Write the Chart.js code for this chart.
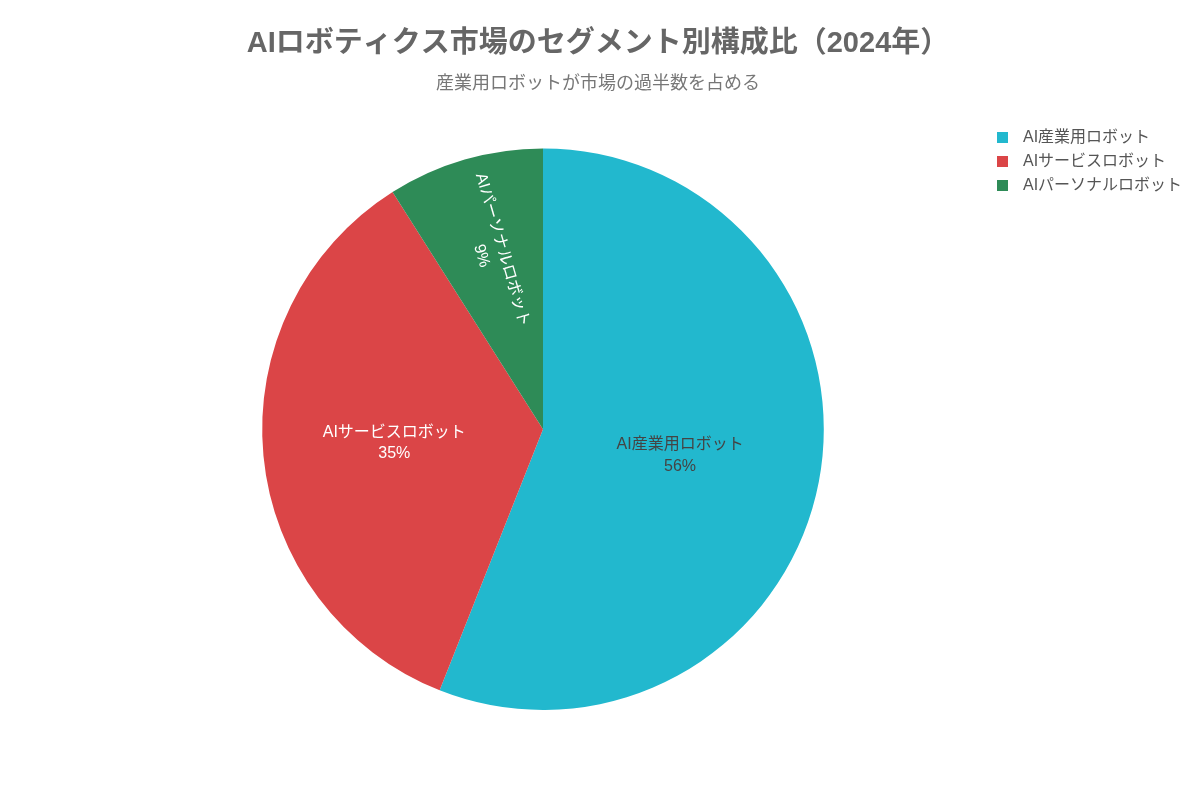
<!DOCTYPE html>
<html lang="ja">
<head>
<meta charset="utf-8">
<title>AIロボティクス市場のセグメント別構成比（2024年）</title>
<script src="https://cdn.jsdelivr.net/npm/chart.js@4.4.1/dist/chart.umd.min.js"></script>
<style>
  html, body { margin: 0; padding: 0; background: #fff; }
  #wrap { width: 1200px; height: 800px; }
</style>
</head>
<body>
<div id="wrap"><canvas id="segmentChart" width="1200" height="800"></canvas></div>
<script>
// Segment shares (%), 2024
const segments = ['AI産業用ロボット', 'AIサービスロボット', 'AIパーソナルロボット'];
const shares = [56, 35, 9];
const segmentColors = ['#22B8CE', '#DB4547', '#2E8B57'];
const labelTextColors = ['#444', '#fff', '#fff'];

const FONT = "'Liberation Sans', 'Noto Sans CJK JP', sans-serif";
const LEGEND_RESERVE = 110; // space kept free on the right of the pie

// Legend drawn at the top right, beside a reserved layout box
const sideLegend = {
    id: 'sideLegend',
    beforeInit(chart) {
        Chart.layouts.addBox(chart, {
            position: 'right',
            weight: 10,
            fullSize: false,
            options: {},
            left: 0, top: 0, right: 0, bottom: 0, width: 0, height: 0,
            isHorizontal() { return false; },
            update(maxWidth, maxHeight) {
                this.width = LEGEND_RESERVE;
                this.height = maxHeight;
            },
            draw() {}
        });
    },
    afterDraw(chart, args, opts) {
        const ctx = chart.ctx;
        const bg = chart.data.datasets[0].backgroundColor;
        ctx.save();
        ctx.font = `${opts.fontSize}px ${FONT}`;
        ctx.textBaseline = 'middle';
        ctx.textAlign = 'left';
        chart.data.labels.forEach((label, i) => {
            const y = opts.y + i * opts.rowHeight;
            ctx.fillStyle = bg[i];
            ctx.fillRect(opts.x, y - opts.box / 2, opts.box, opts.box);
            ctx.fillStyle = opts.color;
            ctx.fillText(label, opts.x + opts.textGap, y);
        });
        ctx.restore();
    }
};

// Label + percent inside each slice; thin slices get radial text
const sliceLabels = {
    id: 'sliceLabels',
    afterDatasetsDraw(chart, args, opts) {
        const meta = chart.getDatasetMeta(0);
        const values = chart.data.datasets[0].data;
        const total = values.reduce((a, b) => a + b, 0);
        const ctx = chart.ctx;
        ctx.save();
        ctx.font = `${opts.fontSize}px ${FONT}`;
        ctx.textAlign = 'center';
        ctx.textBaseline = 'middle';
        meta.data.forEach((arc, i) => {
            const p = arc.getProps(['x', 'y', 'startAngle', 'endAngle', 'outerRadius'], true);
            const mid = (p.startAngle + p.endAngle) / 2;
            const radial = (p.endAngle - p.startAngle) < opts.rotateBelow;
            const r = p.outerRadius * opts.distance[i];
            const lines = [chart.data.labels[i], Math.round(values[i] / total * 100) + '%'];
            ctx.save();
            ctx.translate(p.x + Math.cos(mid) * r, p.y + Math.sin(mid) * r);
            if (radial) ctx.rotate(mid + Math.PI);
            ctx.fillStyle = opts.colors[i];
            lines.forEach((t, k) => {
                ctx.fillText(t, 0, (k - (lines.length - 1) / 2) * opts.lineHeight);
            });
            ctx.restore();
        });
        ctx.restore();
    }
};

new Chart(document.getElementById('segmentChart').getContext('2d'), {
    type: 'pie',
    data: {
        labels: segments,
        datasets: [{
            data: shares,
            backgroundColor: segmentColors,
            borderWidth: 0,
            hoverOffset: 0
        }]
    },
    options: {
        responsive: false,
        animation: false,
        devicePixelRatio: 1,
        layout: { padding: { left: 0, right: 4, top: 0, bottom: 90 } },
        plugins: {
            legend: { display: false },
            tooltip: { enabled: false },
            title: {
                display: true,
                text: 'AIロボティクス市場のセグメント別構成比（2024年）',
                color: '#666',
                font: { family: FONT, size: 29, weight: 'bold', lineHeight: 1.2 },
                padding: { top: 27, bottom: 0 }
            },
            subtitle: {
                display: true,
                text: '産業用ロボットが市場の過半数を占める',
                color: '#777',
                font: { family: FONT, size: 18, lineHeight: 1.2 },
                padding: { top: 11, bottom: 54 }
            },
            sideLegend: {
                x: 997, y: 137.5, rowHeight: 24, box: 11, textGap: 26,
                fontSize: 16, color: '#555'
            },
            sliceLabels: {
                fontSize: 16,
                lineHeight: 21.5,
                distance: [0.497, 0.532, 0.654],
                rotateBelow: 0.7,
                colors: labelTextColors
            }
        }
    },
    plugins: [sideLegend, sliceLabels]
});
</script>
</body>
</html>
